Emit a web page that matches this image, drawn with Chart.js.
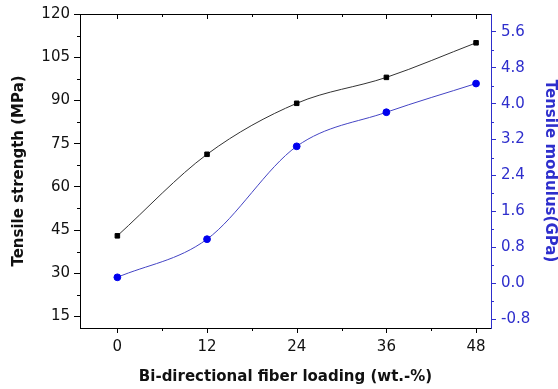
<!DOCTYPE html>
<html>
<head>
    <title>Tensile strength and modulus</title>
    <script src="https://cdn.jsdelivr.net/npm/chart.js"></script>
    <style>
        body {
            margin: 0;
            background: #fff;
        }
        .chart-container {
            width: 558px;
            height: 389px;
        }
    </style>
</head>
<body>
    <div class="chart-container">
        <canvas id="tensile-chart" width="558" height="389"></canvas>
    </div>

    <script>
        // values
        const fiberLoading = [0, 12, 24, 36, 48];
        const tensileStrength = [43, 71.3, 89, 98, 110];
        const tensileModulus = [0.13, 0.98, 3.05, 3.81, 4.45];

        const xTicks = [0, 12, 24, 36, 48];
        const xMinorTicks = [6, 18, 30, 42];
        const strengthTicks = [15, 30, 45, 60, 75, 90, 105, 120];
        const strengthMinorTicks = [22.5, 37.5, 52.5, 67.5, 82.5, 97.5, 112.5];
        const modulusTicks = [-0.8, 0, 0.8, 1.6, 2.4, 3.2, 4.0, 4.8, 5.6];
        const modulusMinorTicks = [-0.4, 0.4, 1.2, 2.0, 2.8, 3.6, 4.4, 5.2];

        const blue = '#2e2ecc';
        const font = 'DejaVu Sans, sans-serif';

        function fixTicks(list) {
            return function(scale) {
                scale.ticks = list.map(v => ({ value: v }));
            };
        }

        // minor ticks and the top frame line with inward ticks
        const frame = {
            id: 'frame',
            afterDraw(chart) {
                const ctx = chart.ctx;
                const a = chart.chartArea;
                const x = chart.scales.x;
                const y = chart.scales.y;
                const y2 = chart.scales.y2;
                ctx.save();
                ctx.lineWidth = 1;
                ctx.strokeStyle = '#000';
                ctx.beginPath();
                ctx.moveTo(a.left, a.top + 0.5);
                ctx.lineTo(a.right, a.top + 0.5);
                xTicks.forEach(v => {
                    const px = Math.round(x.getPixelForValue(v)) + 0.5;
                    ctx.moveTo(px, a.top); ctx.lineTo(px, a.top + 5);
                    ctx.moveTo(px, a.bottom); ctx.lineTo(px, a.bottom + 5);
                });
                xMinorTicks.forEach(v => {
                    const px = Math.round(x.getPixelForValue(v)) + 0.5;
                    ctx.moveTo(px, a.top); ctx.lineTo(px, a.top + 3);
                    ctx.moveTo(px, a.bottom); ctx.lineTo(px, a.bottom + 3);
                });
                strengthMinorTicks.forEach(v => {
                    const py = Math.round(y.getPixelForValue(v)) + 0.5;
                    ctx.moveTo(a.left, py); ctx.lineTo(a.left - 3, py);
                });
                ctx.stroke();
                ctx.strokeStyle = blue;
                ctx.beginPath();
                modulusMinorTicks.forEach(v => {
                    const py = Math.round(y2.getPixelForValue(v)) + 0.5;
                    ctx.moveTo(a.right, py); ctx.lineTo(a.right + 3, py);
                });
                ctx.stroke();
                ctx.restore();
            }
        };

        const ctx = document.getElementById('tensile-chart').getContext('2d');
        new Chart(ctx, {
            type: 'line',
            data: {
                datasets: [
                    {
                        label: 'Tensile strength',
                        data: fiberLoading.map((v, i) => ({ x: v, y: tensileStrength[i] })),
                        yAxisID: 'y',
                        borderColor: '#333',
                        borderWidth: 1,
                        pointStyle: 'rect',
                        pointRadius: 3.2,
                        pointBackgroundColor: '#000',
                        pointBorderColor: '#000',
                        cubicInterpolationMode: 'monotone',
                        fill: false
                    },
                    {
                        label: 'Tensile modulus',
                        data: fiberLoading.map((v, i) => ({ x: v, y: tensileModulus[i] })),
                        yAxisID: 'y2',
                        borderColor: '#4444c4',
                        borderWidth: 1,
                        pointStyle: 'circle',
                        pointRadius: 3.4,
                        pointBackgroundColor: '#0000ee',
                        pointBorderColor: '#0000ee',
                        cubicInterpolationMode: 'monotone',
                        fill: false
                    }
                ]
            },
            options: {
                responsive: false,
                animation: false,
                layout: { padding: { top: 14, left: 0, right: 0, bottom: 0 } },
                plugins: {
                    legend: { display: false },
                    tooltip: { enabled: false }
                },
                scales: {
                    x: {
                        type: 'linear',
                        min: -5,
                        max: 50,
                        afterBuildTicks: fixTicks(xTicks),
                        afterFit(scale) { scale.height = 61; },
                        grid: { drawOnChartArea: false, drawTicks: false, color: '#000' },
                        border: { color: '#000', width: 1 },
                        ticks: {
                            color: '#111',
                            padding: 10,
                            font: { family: font, size: 15 }
                        },
                        title: {
                            display: true,
                            text: 'Bi-directional fiber loading (wt.-%)',
                            color: '#111',
                            font: { family: font, size: 15, weight: 'bold' },
                            padding: { top: 0, bottom: 3 }
                        }
                    },
                    y: {
                        position: 'left',
                        min: 11,
                        max: 120,
                        afterBuildTicks: fixTicks(strengthTicks),
                        afterFit(scale) { scale.width = 80; },
                        grid: { drawOnChartArea: false, color: '#000', tickLength: 6 },
                        border: { color: '#000', width: 1 },
                        ticks: {
                            color: '#111',
                            padding: 4,
                            font: { family: font, size: 15 }
                        },
                        title: {
                            display: true,
                            text: 'Tensile strength (MPa)',
                            color: '#111',
                            font: { family: font, size: 15, weight: 'bold' },
                            padding: { top: 10, bottom: 0 }
                        }
                    },
                    y2: {
                        position: 'right',
                        min: -1.0,
                        max: 6.0,
                        afterBuildTicks: fixTicks(modulusTicks),
                        afterFit(scale) { scale.width = 67; },
                        grid: { drawOnChartArea: false, color: blue, tickLength: 5 },
                        border: { color: blue, width: 1 },
                        ticks: {
                            color: blue,
                            padding: 5,
                            font: { family: font, size: 15 },
                            callback: v => v.toFixed(1)
                        },
                        title: {
                            display: true,
                            text: 'Tensile modulus(GPa)',
                            color: blue,
                            font: { family: font, size: 15, weight: 'bold' },
                            padding: { top: -1, bottom: 0 }
                        }
                    }
                }
            },
            plugins: [frame]
        });
    </script>
</body>
</html>
